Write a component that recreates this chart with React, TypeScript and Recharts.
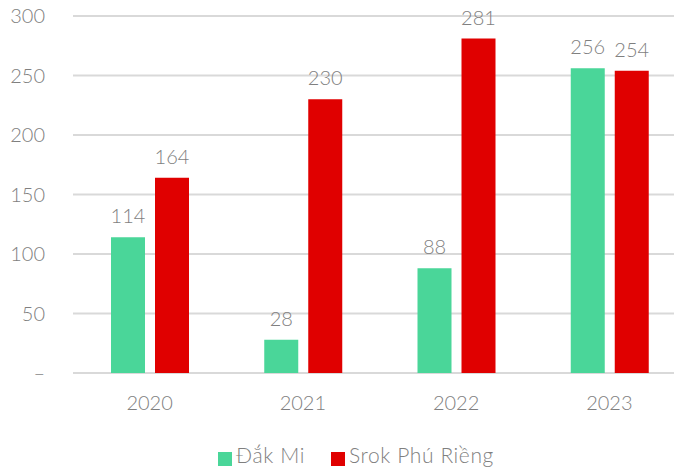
import { BarChart, Bar, XAxis, YAxis, CartesianGrid, Legend, LabelList } from "recharts";

const years = ["2020", "2021", "2022", "2023"];
const dakMi = [114, 28, 88, 256];
const srokPhuRieng = [164, 230, 281, 254];
const yTicks = [0, 50, 100, 150, 200, 250, 300];

const data = years.map((year, i) => ({
  year,
  dakMi: dakMi[i],
  srokPhuRieng: srokPhuRieng[i],
}));

const gray = "#7f7f7f";
const font = "Lato, 'Noto Sans', sans-serif";

export default function App() {
  return (
    // cancel the body margin so the chart fills the page
    <div style={{ fontFamily: font, margin: -8 }}>
      <BarChart
        width={682}
        height={475}
        data={data}
        margin={{ top: 16, right: -4, bottom: 8, left: 0 }}
        barGap={10}
        barSize={34}
      >
        <CartesianGrid vertical={false} stroke="#d9d9d9" strokeWidth={2} />
        <XAxis
          dataKey="year"
          axisLine={false}
          tickLine={false}
          tickMargin={17}
          height={69}
          tick={{ fill: gray, fontSize: 20, fontFamily: font, fontWeight: 300 }}
        />
        <YAxis
          domain={[0, 300]}
          ticks={yTicks}
          width={73}
          axisLine={false}
          tickLine={false}
          tickMargin={22}
          tickFormatter={(v: number) => (v === 0 ? "–" : String(v))}
          tick={{ fill: gray, fontSize: 20, fontFamily: font, fontWeight: 300 }}
        />
        <Legend
          verticalAlign="bottom"
          iconType="square"
          iconSize={14}
          itemSorter="dataKey"
          wrapperStyle={{ paddingLeft: 18 }}
          formatter={(value: string, _entry: unknown, index: number) => (
            <span
              style={{
                color: gray,
                fontSize: 21,
                letterSpacing: 0.6,
                fontFamily: font,
                fontWeight: 300,
                marginRight: index === 0 ? 16 : 0,
              }}
            >
              {value}
            </span>
          )}
        />
        <Bar dataKey="dakMi" name="Đắk Mi" fill="#4ad699" isAnimationActive={false}>
          <LabelList dataKey="dakMi" position="top" offset={14} fill={gray} fontSize={20} fontFamily={font} fontWeight={300} />
        </Bar>
        <Bar dataKey="srokPhuRieng" name="Srok Phú Riềng" fill="#e00000" isAnimationActive={false}>
          <LabelList dataKey="srokPhuRieng" position="top" offset={14} fill={gray} fontSize={20} fontFamily={font} fontWeight={300} />
        </Bar>
      </BarChart>
    </div>
  );
}
